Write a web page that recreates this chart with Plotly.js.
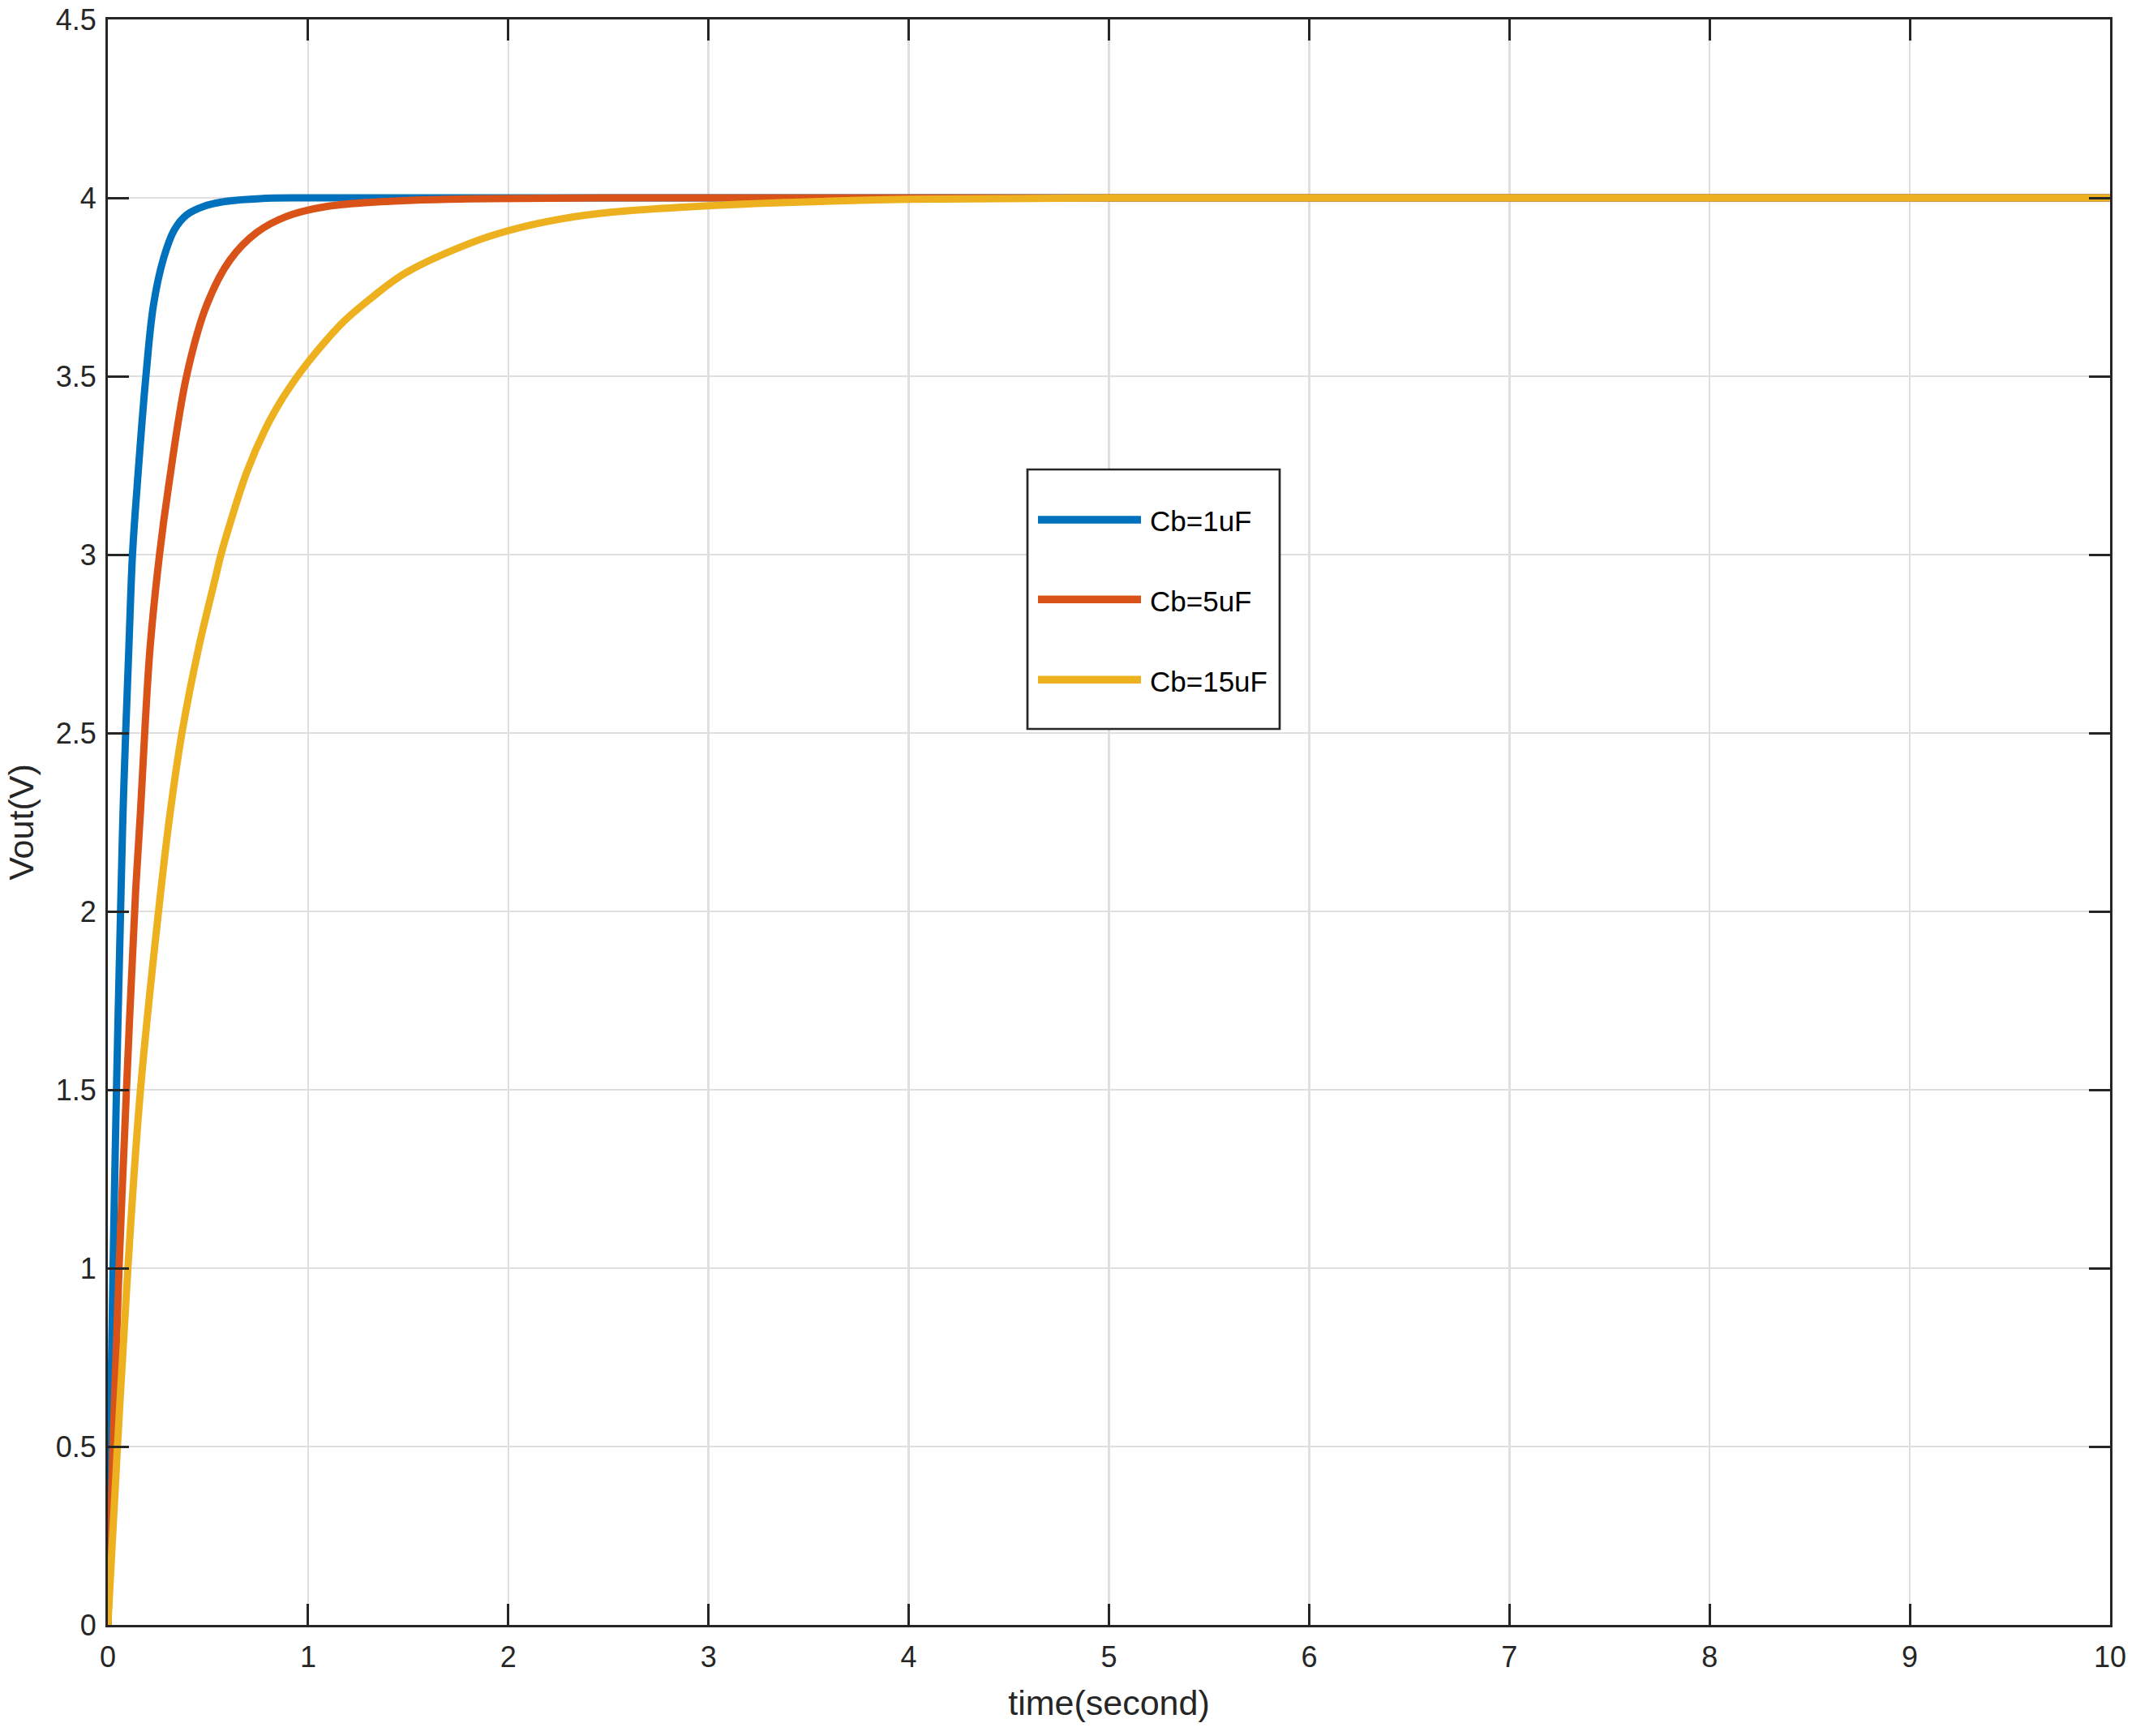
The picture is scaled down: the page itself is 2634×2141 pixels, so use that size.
<!DOCTYPE html>
<html>
<head>
<meta charset="utf-8">
<script src="https://cdn.plot.ly/plotly-3.0.1.min.js"></script>
<style>
  html, body { margin: 0; padding: 0; background: #ffffff; }
  #chart { width: 2634px; height: 2141px; }
</style>
</head>
<body>
<div id="chart"></div>
<script>
// ---- data ----
const seriesNames = ["Cb=1uF", "Cb=5uF", "Cb=15uF"];
const seriesColors = ["#0072BD", "#D95319", "#EDB120"];

const t1 = [0, 0.012, 0.026, 0.043, 0.066, 0.076, 0.089, 0.105, 0.123, 0.146, 0.19, 0.228, 0.278, 0.332, 0.393, 0.488, 0.6, 0.76, 1.0, 10];
const v1 = [0, 0.5, 1.0, 1.5, 2.06, 2.28, 2.5, 2.74, 3.0, 3.19, 3.5, 3.70, 3.83, 3.91, 3.952, 3.978, 3.991, 3.998, 4.0, 4.0];

const t5 = [0, 0.026, 0.056, 0.093, 0.139, 0.163, 0.184, 0.211, 0.258, 0.303, 0.393, 0.494, 0.609, 0.744, 0.893, 1.096, 1.43, 1.8, 2.5, 10];
const v5 = [0, 0.5, 1.0, 1.5, 2.06, 2.28, 2.5, 2.74, 3.0, 3.19, 3.5, 3.70, 3.825, 3.903, 3.948, 3.976, 3.991, 3.997, 4.0, 4.0];

const t15 = [0, 0.048, 0.1, 0.163, 0.265, 0.312, 0.37, 0.454, 0.535, 0.565, 0.609, 0.697, 0.785, 0.859, 0.947, 1.015, 1.096, 1.177, 1.317, 1.488, 1.805, 2.0, 2.255, 2.52, 3.0, 3.55, 4.0, 5.0, 10];
const v15 = [0, 0.5, 1.0, 1.5, 2.06, 2.28, 2.5, 2.74, 2.93, 3.0, 3.085, 3.236, 3.35, 3.426, 3.5, 3.55, 3.604, 3.653, 3.72, 3.79, 3.872, 3.908, 3.94, 3.96, 3.978, 3.99, 3.996, 4.0, 4.0];

const xTicks = [0, 1, 2, 3, 4, 5, 6, 7, 8, 9, 10];
const yTicks = [0, 0.5, 1, 1.5, 2, 2.5, 3, 3.5, 4, 4.5];
const xTitle = "time(second)";
const yTitle = "Vout(V)";

// ---- figure ----
const xs = [t1, t5, t15];
const ys = [v1, v5, v15];
const LW = 9;
const traces = xs.map((x, i) => ({
  type: "scatter",
  mode: "lines",
  x: x,
  y: ys[i],
  name: seriesNames[i],
  showlegend: false,
  line: { color: seriesColors[i], width: LW, shape: "spline", smoothing: 1.0 },
  hoverinfo: "skip"
}));

const W = 2634, H = 2141;
const L = 133, R = 32, T = 24, B = 137;
const pw = W - L - R, ph = H - T - B;
const px2x = p => (p - L) / pw;
const py2y = p => (H - B - p) / ph;

const axisColor = "#262626";
const font = "Liberation Sans, Arial, Helvetica, sans-serif";

// manual MATLAB-style legend (box + long line samples + labels)
const shapes = [{
  type: "rect", xref: "paper", yref: "paper", layer: "above",
  x0: px2x(1267), x1: px2x(1578), y0: py2y(899), y1: py2y(579),
  fillcolor: "#ffffff", line: { color: axisColor, width: 2.7 }
}];
const annotations = [];
const legendRowsPx = [641, 739.3, 838.3];
seriesNames.forEach((nm, i) => {
  shapes.push({
    type: "line", xref: "paper", yref: "paper", layer: "above",
    x0: px2x(1280), x1: px2x(1407), y0: py2y(legendRowsPx[i]), y1: py2y(legendRowsPx[i]),
    line: { color: seriesColors[i], width: 9.5 }
  });
  annotations.push({
    xref: "paper", yref: "paper", x: px2x(1416), y: py2y(legendRowsPx[i] + 2),
    xanchor: "left", yanchor: "middle", showarrow: false,
    text: nm, font: { family: font, size: 35, color: "#000000" }
  });
});

const layout = {
  width: W, height: H,
  margin: { l: L, r: R, t: T, b: B, pad: 0 },
  paper_bgcolor: "#ffffff", plot_bgcolor: "#ffffff",
  font: { family: font, color: axisColor },
  showlegend: false,
  xaxis: {
    range: [0, 10], tickvals: xTicks, ticktext: xTicks.map(String),
    showline: true, mirror: "ticks", linecolor: axisColor, linewidth: 3,
    ticks: "inside", ticklen: 26, tickwidth: 3, tickcolor: axisColor,
    showgrid: true, gridcolor: "#dfdfdf", gridwidth: 2.5, zeroline: false,
    tickfont: { family: font, size: 36, color: axisColor },
    ticklabelstandoff: 6,
    title: { text: xTitle, font: { family: font, size: 43, color: axisColor }, standoff: 22 }
  },
  yaxis: {
    range: [0, 4.5], tickvals: yTicks, ticktext: yTicks.map(String),
    showline: true, mirror: "ticks", linecolor: axisColor, linewidth: 3,
    ticks: "inside", ticklen: 26, tickwidth: 3, tickcolor: axisColor,
    showgrid: true, gridcolor: "#dfdfdf", gridwidth: 2.5, zeroline: false,
    tickfont: { family: font, size: 36, color: axisColor },
    ticklabelstandoff: 4,
    title: { text: yTitle, font: { family: font, size: 43, color: axisColor }, standoff: 14 }
  },
  shapes: shapes,
  annotations: annotations
};

Plotly.newPlot("chart", traces, layout, { displayModeBar: false, staticPlot: true });
</script>
</body>
</html>
